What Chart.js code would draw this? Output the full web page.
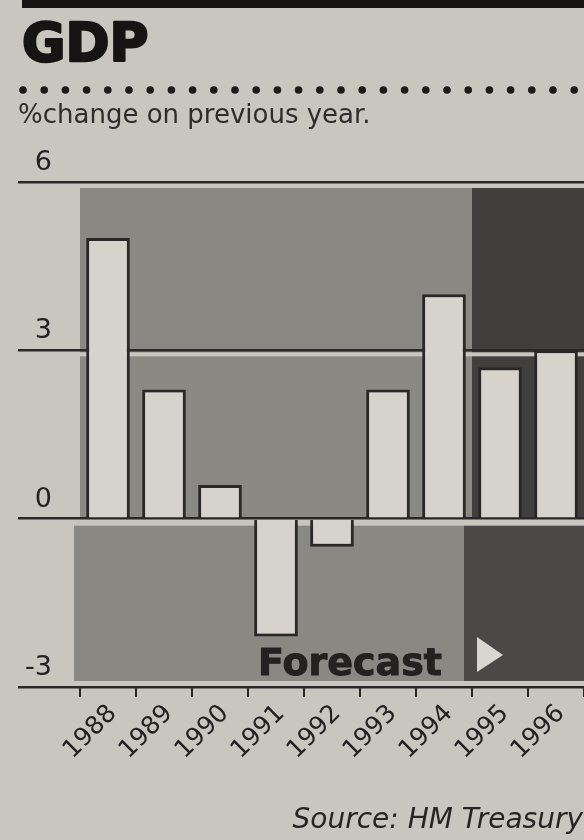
<!DOCTYPE html>
<html><head><meta charset="utf-8">
<script src="https://cdn.jsdelivr.net/npm/chart.js@4.4.1/dist/chart.umd.min.js"></script>
<style>html,body{margin:0;padding:0;background:#c9c6c0;overflow:hidden}#wrap{width:584px;height:840px;position:relative}</style>
</head><body><div id="wrap"><canvas id="c" width="584" height="840"></canvas></div>
<script>
// ---- data ----
const years = ['1988', '1989', '1990', '1991', '1992', '1993', '1994', '1995', '1996'];
const gdpChange = [5.0, 2.3, 0.6, -2.1, -0.5, 2.3, 4.0, 2.7, 3.0];
const yTicks = [-3, 0, 3, 6];
const forecastFrom = '1995';
const titleText = 'GDP';
const subtitleText = '%change on previous year.';
const forecastText = 'Forecast';
const sourceText = 'Source: HM Treasury';

// ---- style ----
const PAPER = '#c9c6c0', MID = '#8a8883', DARK = '#403f3d', DARK2 = '#4a4947', INK = '#232220', BARFILL = '#d6d3cd';
const FONT = "'DejaVu Sans', sans-serif";

const deco = {
  id: 'deco',
  beforeDraw(chart) {
    const {ctx, scales: {x, y}, chartArea: a} = chart;
    ctx.save();
    ctx.fillStyle = PAPER;
    ctx.fillRect(0, 0, chart.width, chart.height);
    const fi = years.indexOf(forecastFrom);
    const half = (x.getPixelForValue(1) - x.getPixelForValue(0)) / 2;
    const split = x.getPixelForValue(fi) - half;
    const yTop = y.getPixelForValue(y.max) + 6;
    const y0 = y.getPixelForValue(0);
    const yBot = y.getPixelForValue(y.min) - 6;
    ctx.fillStyle = MID;
    ctx.fillRect(a.left, yTop, split - a.left, y0 - yTop);
    ctx.fillStyle = DARK;
    ctx.fillRect(split, yTop, a.right - split, y0 - yTop);
    ctx.fillStyle = MID;
    ctx.fillRect(a.left - 6, y0 + 7, split - 8 - (a.left - 6), yBot - (y0 + 7));
    ctx.fillStyle = DARK2;
    ctx.fillRect(split - 8, y0 + 7, a.right - split + 8, yBot - (y0 + 7));
    ctx.restore();
  },
  beforeDatasetsDraw(chart) {
    const {ctx, scales: {y}, chartArea: a} = chart;
    ctx.save();
    ctx.fillStyle = PAPER;
    const y3 = y.getPixelForValue(3);
    ctx.fillRect(a.left, y3 + 2, a.right - a.left, 4);
    ctx.restore();
  },
  afterDraw(chart) {
    const {ctx, scales: {x, y}} = chart;
    ctx.save();
    // top rule
    ctx.fillStyle = '#161514';
    ctx.fillRect(22, 0, chart.width - 22, 8);
    // title (heavy)
    ctx.fillStyle = '#161514';
    ctx.strokeStyle = '#161514';
    ctx.lineWidth = 2.5;
    ctx.lineJoin = 'round';
    ctx.font = "bold 53px " + FONT;
    ctx.textBaseline = 'alphabetic';
    ctx.textAlign = 'left';
    ctx.fillText(titleText, 22, 61);
    ctx.strokeText(titleText, 22, 61);
    // dotted rule
    ctx.fillStyle = '#1c1b1a';
    for (let dx = 23; dx < chart.width; dx += 21.2) {
      ctx.beginPath();
      ctx.arc(dx, 90, 3.8, 0, Math.PI * 2);
      ctx.fill();
    }
    // subtitle
    ctx.fillStyle = '#2e2d2b';
    ctx.font = "26px " + FONT;
    ctx.fillText(subtitleText, 18, 123);
    // forecast label and arrow
    const fi = years.indexOf(forecastFrom);
    const half = (x.getPixelForValue(1) - x.getPixelForValue(0)) / 2;
    const split = x.getPixelForValue(fi) - half;
    const yb = y.getPixelForValue(y.min);
    ctx.fillStyle = INK;
    ctx.strokeStyle = INK;
    ctx.lineWidth = 1;
    ctx.font = "bold 38px " + FONT;
    ctx.textAlign = 'right';
    ctx.fillText(forecastText, split - 30, yb - 12);
    ctx.strokeText(forecastText, split - 30, yb - 12);
    ctx.fillStyle = '#d8d6d0';
    ctx.beginPath();
    ctx.moveTo(split + 5, yb - 50);
    ctx.lineTo(split + 31, yb - 32);
    ctx.lineTo(split + 5, yb - 15);
    ctx.closePath();
    ctx.fill();
    // source
    ctx.fillStyle = '#262523';
    ctx.font = "italic 28px " + FONT;
    ctx.textAlign = 'right';
    ctx.fillText(sourceText, 583, 828);
    ctx.restore();
  }
};

Chart.defaults.font.family = FONT;
Chart.defaults.color = INK;

new Chart(document.getElementById('c'), {
  type: 'bar',
  data: {
    labels: years,
    datasets: [{
      data: gdpChange,
      backgroundColor: BARFILL,
      borderColor: '#2a2826',
      borderWidth: 3,
      barPercentage: 0.78,
      categoryPercentage: 1.0
    }]
  },
  options: {
    responsive: false,
    animation: false,
    devicePixelRatio: 1,
    layout: {padding: {top: 182, left: 0, right: 0, bottom: 0}},
    plugins: {legend: {display: false}, tooltip: {enabled: false}, title: {display: false}},
    scales: {
      x: {
        offset: true,
        grid: {offset: true, drawOnChartArea: false, drawTicks: true, tickLength: 10, color: '#2a2826', lineWidth: 2},
        border: {display: false},
        ticks: {autoSkip: false, minRotation: 45, maxRotation: 45, padding: 2, labelOffset: 5, font: {size: 25}, color: INK},
        afterFit(s) { s.height = 153; }
      },
      y: {
        min: -3, max: 6,
        afterBuildTicks(s) { s.ticks = yTicks.map(v => ({value: v})); },
        grid: {color: '#2a2826', lineWidth: 2.5, drawTicks: true, tickLength: 62},
        border: {display: false},
        ticks: {padding: -34, labelOffset: -19, font: {size: 27}, color: INK, crossAlign: 'near'},
        afterFit(s) { s.width = 80; }
      }
    }
  },
  plugins: [deco]
});
</script>
</body></html>
